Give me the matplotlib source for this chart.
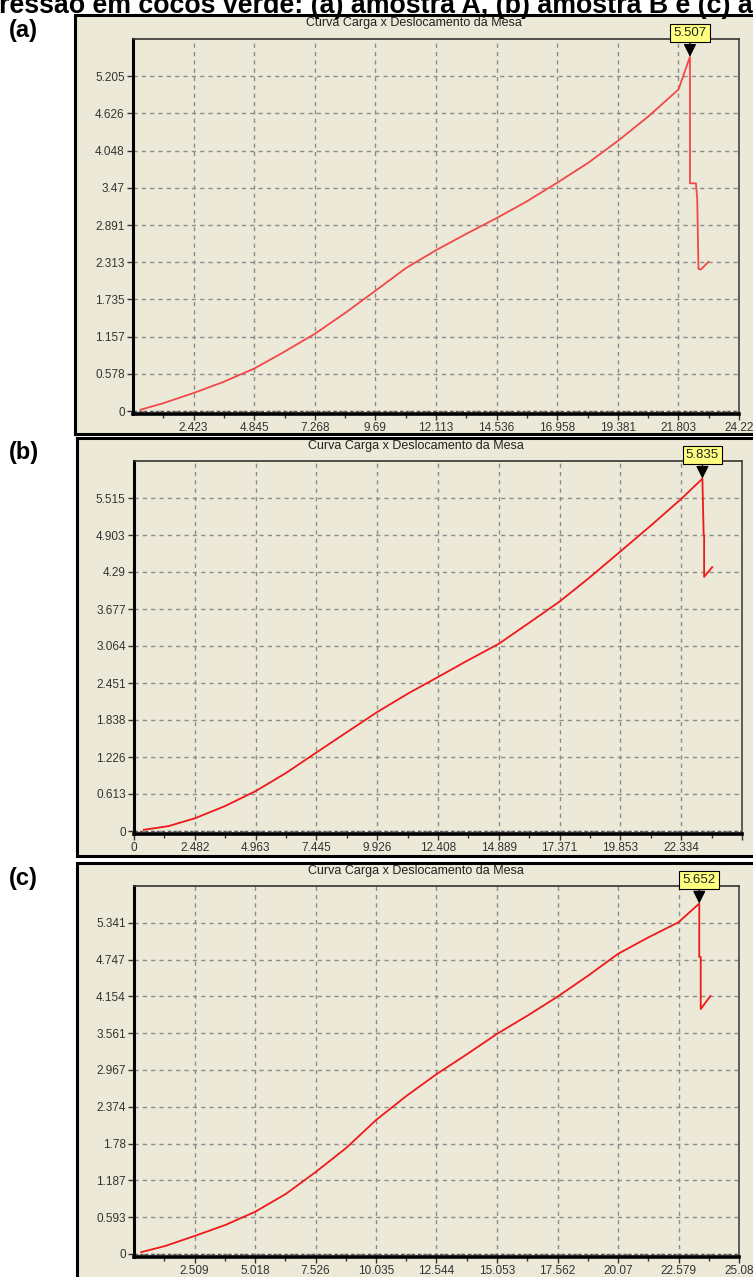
import numpy as np
import matplotlib.pyplot as plt
from matplotlib.ticker import FixedLocator, NullFormatter

# ---- dados ----
# (a) amostra A
xa = [0.3, 1.2, 2.423, 3.6, 4.845, 6.0, 7.268, 8.5, 9.69, 10.9, 12.113, 13.3,
      14.536, 15.7, 16.958, 18.2, 19.381, 20.6, 21.803, 22.26,
      22.26, 22.5, 22.55, 22.6, 22.7, 22.9, 23.0]
ya = [0.02, 0.12, 0.28, 0.45, 0.66, 0.91, 1.2, 1.53, 1.87, 2.22, 2.5, 2.75,
      3.0, 3.25, 3.55, 3.86, 4.2, 4.58, 5.0, 5.507,
      3.54, 3.54, 3.3, 2.21, 2.2, 2.28, 2.32]
# (b) amostra B
xb = [0.4, 1.4, 2.482, 3.7, 4.963, 6.2, 7.445, 8.7, 9.926, 11.2, 12.408, 13.6,
      14.889, 16.1, 17.371, 18.6, 19.853, 21.1, 22.334, 23.2,
      23.25, 23.27, 23.27, 23.6]
yb = [0.02, 0.08, 0.21, 0.41, 0.66, 0.96, 1.3, 1.64, 1.97, 2.28, 2.55, 2.82,
      3.1, 3.44, 3.8, 4.2, 4.63, 5.06, 5.5, 5.835,
      4.92, 4.9, 4.21, 4.37]
# (c) amostra C
xc = [0.3, 1.3, 2.509, 3.8, 5.018, 6.3, 7.526, 8.8, 10.035, 11.3, 12.544, 13.8,
      15.053, 16.3, 17.562, 18.8, 20.07, 21.3, 22.579, 23.44,
      23.44, 23.5, 23.5, 23.9]
yc = [0.03, 0.13, 0.29, 0.47, 0.68, 0.97, 1.32, 1.71, 2.16, 2.55, 2.9, 3.22,
      3.55, 3.84, 4.15, 4.48, 4.84, 5.1, 5.35, 5.652,
      4.79, 4.79, 3.95, 4.16]

x_step = [2.4220, 2.4816, 2.50875]
y_step = [0.57834, 0.61278, 0.59347]
x_lbl = [['2.423', '4.845', '7.268', '9.69', '12.113', '14.536', '16.958', '19.381', '21.803', '24.22'],
         ['0', '2.482', '4.963', '7.445', '9.926', '12.408', '14.889', '17.371', '19.853', '22.334', ''],
         ['2.509', '5.018', '7.526', '10.035', '12.544', '15.053', '17.562', '20.07', '22.579', '25.08']]
y_lbl = [['0', '0.578', '1.157', '1.735', '2.313', '2.891', '3.47', '4.048', '4.626', '5.205'],
         ['0', '0.613', '1.226', '1.838', '2.451', '3.064', '3.677', '4.29', '4.903', '5.515'],
         ['0', '0.593', '1.187', '1.78', '2.374', '2.967', '3.561', '4.154', '4.747', '5.341']]
peaks = [(22.26, 5.507, '5.507'), (23.2, 5.835, '5.835'), (23.44, 5.652, '5.652')]

W, H = 753, 1277
BG = '#ECE9D8'
plt.rcParams['font.family'] = ['Liberation Sans', 'DejaVu Sans']

fig = plt.figure(figsize=(W / 100, H / 100), dpi=100)
fig.patch.set_facecolor('white')


def box(l, t, r, b):
    # pixel -> fracao da figura
    return [l / W, 1 - b / H, (r - l) / W, (b - t) / H]


frames = [(75, 15, 770, 434), (77, 438, 770, 856), (77, 863, 770, 1300)]
plots = [(133, 39, 739, 411), (134, 461, 742, 831), (134, 886, 739, 1254)]
labels = ['(a)', '(b)', '(c)']
series = [(xa, ya), (xb, yb), (xc, yc)]
line_cols = ['#F24848', '#F01818', '#F01818']

for i in range(3):
    fl, ft, fr, fb = frames[i]
    fax = fig.add_axes(box(fl, ft, fr, fb))
    fax.set_facecolor(BG)
    fax.set_xticks([])
    fax.set_yticks([])
    for s in fax.spines.values():
        s.set_linewidth(2.2)
        s.set_color('black')
    fig.text((fl + 339) / W, 1 - (ft + 8) / H, 'Curva Carga x Deslocamento da Mesa',
             ha='center', va='center', fontsize=9, color='#222222')
    fig.text(9 / W, 1 - (ft + 15) / H, labels[i], ha='left', va='center',
             fontsize=17, fontweight='bold')

    pl, pt, pr, pb = plots[i]
    ax = fig.add_axes(box(pl, pt, pr, pb + 3))
    ax.set_facecolor(BG)
    xs, ys = y_step[i], x_step[i]
    ppu = (pb - pt) / (10 * xs)
    ax.set_xlim(0, 10 * ys)
    ax.set_ylim(-3 / ppu, 10 * xs)

    ax.xaxis.set_major_locator(FixedLocator([k * ys for k in range(0 if i == 1 else 1, 11)]))
    ax.set_xticklabels(x_lbl[i])
    ax.xaxis.set_minor_locator(FixedLocator([(k + 0.5) * ys for k in range(10)]))
    ax.xaxis.set_minor_formatter(NullFormatter())
    ax.yaxis.set_major_locator(FixedLocator([k * xs for k in range(10)]))
    ax.set_yticklabels(y_lbl[i])
    ax.tick_params(axis='both', which='major', length=4, width=1, color='#333333',
                   labelsize=8.5, labelcolor='#333333', pad=2)
    ax.tick_params(axis='x', which='minor', length=3, width=1, color='#333333')

    ax.grid(True, which='major', color='#8C8C8C', linestyle=(0, (3, 3)), linewidth=1)
    ax.axhline(0, color='#555555', linestyle=(0, (2, 2)), linewidth=1)

    ax.spines['left'].set_linewidth(2.2)
    ax.spines['bottom'].set_linewidth(2.6)
    ax.spines['top'].set_linewidth(1.2)
    ax.spines['top'].set_color('#333333')
    ax.spines['right'].set_linewidth(1.2)
    ax.spines['right'].set_color('#444444')
    if i != 1:
        ax.spines['right'].set_linestyle((0, (2, 1)))

    x, y = series[i]
    ax.plot(x, y, color=line_cols[i], linewidth=1.3, clip_on=False)

    px, py, txt = peaks[i]
    ax.annotate(txt, xy=(px, py), xycoords='data',
                xytext=(px, 1.0), textcoords=('data', 'axes fraction'),
                ha='center', va='bottom', fontsize=9.5, color='#222222',
                bbox=dict(boxstyle='square,pad=0.25', fc='#FFFF80', ec='black', lw=0.8),
                arrowprops=dict(arrowstyle='-|>,head_length=0.8,head_width=0.4',
                                color='black', lw=1, shrinkA=0, shrinkB=0),
                annotation_clip=False)

# legenda da figura original, cortada nas bordas como no recorte
fig.text(-1 / W, 1 - 13 / H,
         'ressão em cocos verde: (a) amostra A, (b) amostra B e (c) amostra C',
         ha='left', va='baseline', fontsize=19.3, fontweight='bold')

fig.savefig('out.png', dpi=100)
